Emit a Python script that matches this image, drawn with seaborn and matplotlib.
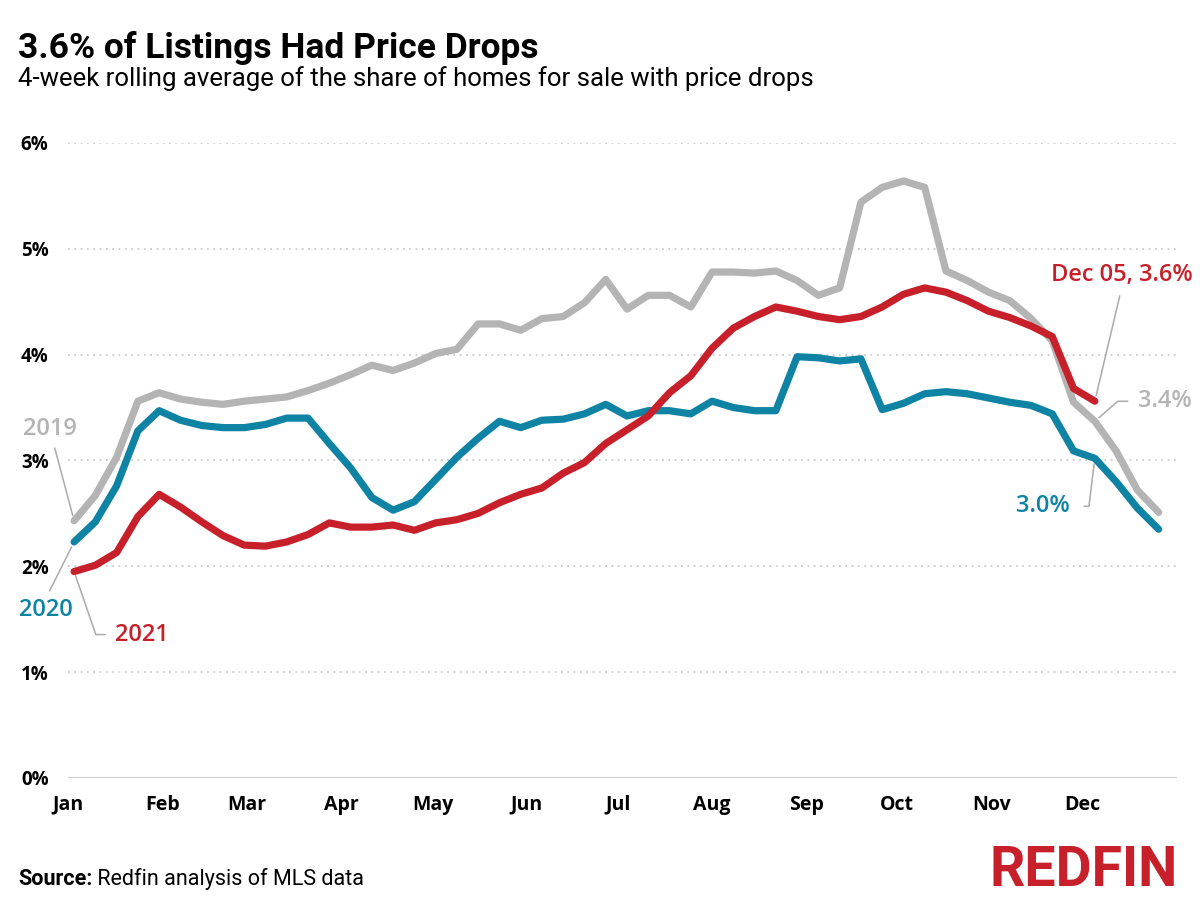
import pandas as pd
import matplotlib.pyplot as plt
import matplotlib.dates as mdates
import seaborn as sns

# Weekly 4-week rolling share of listings with price drops (%)
share_2019 = [2.43, 2.67, 3.03, 3.56, 3.64, 3.58, 3.55, 3.53, 3.56, 3.58,
              3.60, 3.66, 3.73, 3.81, 3.90, 3.85, 3.92, 4.01, 4.05, 4.29,
              4.29, 4.23, 4.34, 4.36, 4.49, 4.71, 4.43, 4.56, 4.56, 4.45,
              4.78, 4.78, 4.77, 4.79, 4.70, 4.56, 4.63, 5.44, 5.58, 5.64,
              5.58, 4.79, 4.70, 4.59, 4.51, 4.34, 4.13, 3.55, 3.37, 3.09,
              2.72, 2.51]
share_2020 = [2.23, 2.42, 2.76, 3.28, 3.47, 3.38, 3.33, 3.31, 3.31, 3.34,
              3.40, 3.40, 3.16, 2.93, 2.65, 2.53, 2.61, 2.82, 3.03, 3.21,
              3.37, 3.31, 3.38, 3.39, 3.44, 3.53, 3.42, 3.47, 3.47, 3.44,
              3.56, 3.50, 3.47, 3.47, 3.98, 3.97, 3.94, 3.96, 3.48, 3.54,
              3.63, 3.65, 3.63, 3.59, 3.55, 3.52, 3.44, 3.09, 3.02, 2.80,
              2.55, 2.35]
share_2021 = [1.95, 2.01, 2.13, 2.47, 2.68, 2.56, 2.42, 2.29, 2.20, 2.19,
              2.23, 2.30, 2.41, 2.37, 2.37, 2.39, 2.34, 2.41, 2.44, 2.50,
              2.60, 2.68, 2.74, 2.88, 2.98, 3.16, 3.29, 3.42, 3.64, 3.80,
              4.06, 4.25, 4.36, 4.45, 4.41, 4.36, 4.33, 4.36, 4.45, 4.57,
              4.63, 4.59, 4.51, 4.41, 4.35, 4.27, 4.17, 3.68, 3.56]
years = ['2019', '2020', '2021']
month_labels = ['Jan', 'Feb', 'Mar', 'Apr', 'May', 'Jun',
                'Jul', 'Aug', 'Sep', 'Oct', 'Nov', 'Dec']
pct_ticks = [0, 1, 2, 3, 4, 5, 6]

colors = {'2019': '#b4b4b4', '2020': '#0e83a4', '2021': '#c8202a'}

weeks = pd.date_range('2021-01-03', periods=52, freq='7D')
df = pd.concat([
    pd.DataFrame({'date': weeks[:len(v)], 'share': v, 'year': y})
    for y, v in zip(years, [share_2019, share_2020, share_2021])
])

sns.set_theme(style='white')
plt.rcParams['font.family'] = ['Open Sans', 'DejaVu Sans']
plt.rcParams['text.color'] = 'black'

fig = plt.figure(figsize=(12, 9), dpi=100)
ax = fig.add_axes([0.0567, 0.1356, 0.924, 0.7056])

sns.lineplot(data=df, x='date', y='share', hue='year', palette=colors,
             linewidth=5.2, legend=False, ax=ax)

ax.set_xlim(pd.Timestamp('2021-01-01'), pd.Timestamp('2022-01-01'))
ax.set_ylim(0, 6)
for v in pct_ticks[1:]:
    ax.axhline(v, color='#cccccc', lw=1.3, ls=(0, (1, 2.5)), zorder=0)
ax.axhline(0, color='#d0d0d0', lw=1.6, zorder=0)
for s in ax.spines.values():
    s.set_visible(False)

ax.set_xticks(pd.date_range('2021-01-01', periods=12, freq='MS'))
ax.set_xticklabels(month_labels, fontsize=14, fontweight='bold', color='black')
ax.set_yticks(pct_ticks)
ax.set_yticklabels([f'{v}%' for v in pct_ticks], fontsize=13.5, fontweight='bold',
                   color='black')
ax.tick_params(axis='x', length=0, pad=12)
ax.tick_params(axis='y', length=0, pad=14)
ax.set_xlabel('')
ax.set_ylabel('')

# labels with leader lines
lead = dict(arrowstyle='-', color='#aaaaaa', lw=1.1)
lab = dict(textcoords='offset pixels', ha='center', va='center', fontsize=17,
           fontweight='semibold')
x0 = mdates.date2num(weeks[0])
x_last = mdates.date2num(weeks[48])

ax.annotate('2019', xy=(x0, share_2019[0]), xytext=(-24, 92), color=colors['2019'],
            arrowprops=dict(lead, relpos=(0.55, 0), shrinkA=3, shrinkB=4), **lab)
ax.annotate('2020', xy=(x0, share_2020[0]), xytext=(-28, -68), color=colors['2020'],
            arrowprops=dict(lead, relpos=(0.5, 1), shrinkA=3, shrinkB=4), **lab)
ax.annotate('2021', xy=(x0, share_2021[0]), xytext=(68, -63), color=colors['2021'],
            arrowprops=dict(lead, relpos=(0, 0.5), shrinkA=5, shrinkB=3,
                            connectionstyle='angle,angleA=0,angleB=-71,rad=0'), **lab)
ax.annotate(f'Dec 05, {share_2021[48]:.1f}%', xy=(x_last, share_2021[48]),
            xytext=(27, 126), color=colors['2021'],
            arrowprops=dict(lead, relpos=(0.5, 0), shrinkA=4, shrinkB=4), **lab)
ax.annotate(f'{share_2019[48]:.1f}%', xy=(x_last, share_2019[48]), xytext=(70, 20),
            color=colors['2019'],
            arrowprops=dict(lead, relpos=(0, 0.5), shrinkA=5, shrinkB=4,
                            connectionstyle='angle,angleA=0,angleB=41,rad=0'), **lab)
ax.annotate(f'{share_2020[48]:.1f}%', xy=(x_last, share_2020[48]), xytext=(-52, -48),
            color=colors['2020'],
            arrowprops=dict(lead, relpos=(1, 0.5), shrinkA=8, shrinkB=4,
                            connectionstyle='angle,angleA=0,angleB=83,rad=0'), **lab)

# titles and footer
fig.text(18 / 1200, 1 - 58 / 900, '3.6% of Listings Had Price Drops', fontsize=25.5,
         fontweight='bold', family=['Roboto', 'DejaVu Sans'], va='baseline')
fig.text(18 / 1200, 1 - 86 / 900,
         '4-week rolling average of the share of homes for sale with price drops',
         fontsize=18.5, family=['Roboto', 'DejaVu Sans'], va='baseline')
src = fig.text(18 / 1200, 1 - 885 / 900, 'Source:', fontsize=15.5, fontweight='bold',
               family=['Roboto', 'DejaVu Sans'], va='baseline')
ax.annotate(' Redfin analysis of MLS data', xy=(1, 0), xycoords=src, va='bottom',
            fontsize=15.5, family=['Roboto', 'DejaVu Sans'], annotation_clip=False)
fig.text(1178 / 1200, 1 - 886 / 900, 'REDFIN', fontsize=40, fontweight='bold',
         color='#c8202a', family=['Liberation Sans Narrow', 'Roboto', 'DejaVu Sans'],
         ha='right', va='baseline')

fig.savefig('out.png', dpi=100)
